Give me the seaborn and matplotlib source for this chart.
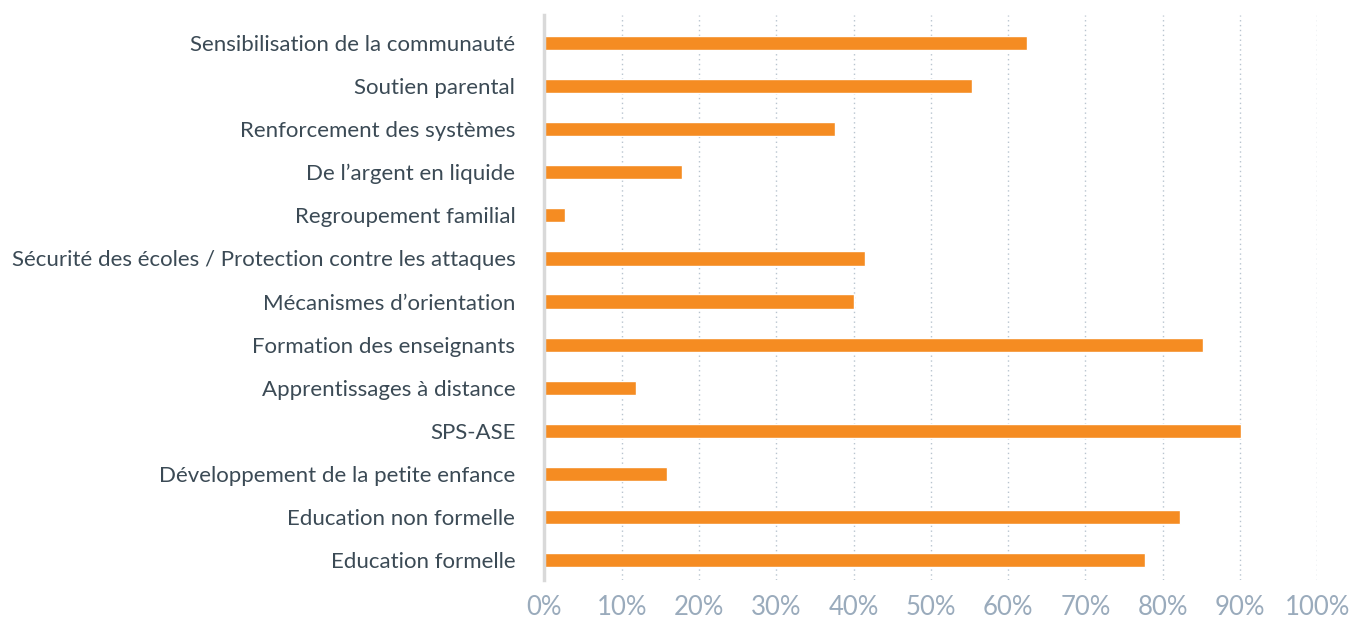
import matplotlib
matplotlib.use('Agg')
import matplotlib.pyplot as plt
import seaborn as sns
import pandas as pd
from matplotlib.ticker import PercentFormatter

categories = [
    'Sensibilisation de la communauté',
    'Soutien parental',
    'Renforcement des systèmes',
    "De l’argent en liquide",
    'Regroupement familial',
    'Sécurité des écoles / Protection contre les attaques',
    "Mécanismes d’orientation",
    'Formation des enseignants',
    'Apprentissages à distance',
    'SPS-ASE',
    'Développement de la petite enfance',
    'Education non formelle',
    'Education formelle',
]
values = [0.624, 0.553, 0.376, 0.178, 0.027, 0.415, 0.400,
          0.852, 0.119, 0.902, 0.158, 0.822, 0.777]

df = pd.DataFrame({'cat': categories, 'val': values})

sns.set_style('white')
plt.rcParams['font.family'] = ['Lato', 'DejaVu Sans']

fig = plt.figure(figsize=(13.51, 6.19), dpi=100)
ax = fig.add_axes([0.403, 0.063, 0.572, 0.913])

sns.barplot(data=df, x='val', y='cat', color='#f58c22', width=0.33,
            saturation=1, errorbar=None, ax=ax)

ax.set_xlim(0, 1)
ax.set_ylim(12.46, -0.65)
ax.xaxis.set_major_formatter(PercentFormatter(1.0, decimals=0))
ax.set_xticks([i / 10 for i in range(11)])
ax.grid(axis='x', color='#b8c4cf', linestyle=(0, (1, 2.5)), linewidth=1)
ax.set_axisbelow(True)
ax.set_xlabel('')
ax.set_ylabel('')

for side in ['top', 'right', 'bottom']:
    ax.spines[side].set_visible(False)
ax.spines['left'].set_color('#d9d9d9')
ax.spines['left'].set_linewidth(2.5)

ax.tick_params(axis='x', length=0, pad=11, labelsize=18.5, labelcolor='#9aabbc')
ax.tick_params(axis='y', length=0, pad=21, labelsize=16, labelcolor='#3b4a55')

fig.savefig('out.png', dpi=100)
